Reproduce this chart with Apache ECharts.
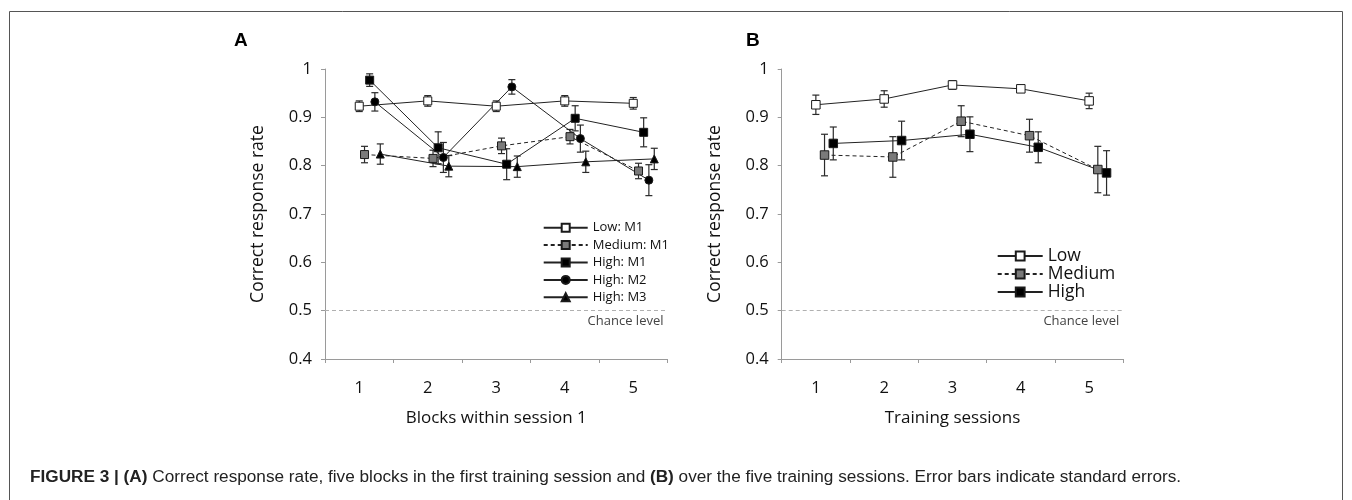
<!DOCTYPE html>
<html>
<head>
<meta charset="utf-8">
<script src="https://cdn.jsdelivr.net/npm/echarts@6/dist/echarts.min.js"></script>
<style>
html,body{margin:0;padding:0;background:#fff;}
#chart{width:1352px;height:500px;}
</style>
</head>
<body>
<div id="chart"></div>
<script>
// ---------- data ----------
const blocks = ['1', '2', '3', '4', '5'];
const sessions = ['1', '2', '3', '4', '5'];

// Panel A: blocks within session 1
const lowM1 = [0.923, 0.934, 0.923, 0.934, 0.929];
const lowM1Err = [0.011, 0.011, 0.011, 0.011, 0.012];
const mediumM1 = [0.823, 0.815, 0.841, 0.860, 0.789];
const mediumM1Err = [0.017, 0.017, 0.016, 0.015, 0.016];
const highM1 = [0.977, 0.837, 0.803, 0.898, 0.869];
const highM1Err = [0.013, 0.033, 0.032, 0.026, 0.030];
const highM2 = [0.932, 0.817, 0.963, 0.856, 0.770];
const highM2Err = [0.019, 0.031, 0.015, 0.028, 0.032];
const highM3 = [0.824, 0.799, 0.798, 0.808, 0.814];
const highM3Err = [0.021, 0.022, 0.022, 0.022, 0.022];

// Panel B: training sessions
const low = [0.926, 0.938, 0.967, 0.959, 0.934];
const lowErr = [0.020, 0.017, 0.009, 0.006, 0.016];
const medium = [0.822, 0.818, 0.892, 0.862, 0.792];
const mediumErr = [0.043, 0.042, 0.032, 0.034, 0.048];
const high = [0.846, 0.852, 0.865, 0.838, 0.785];
const highErr = [0.034, 0.040, 0.036, 0.032, 0.046];

const yTicks = [0.4, 0.5, 0.6, 0.7, 0.8, 0.9, 1];
const chanceLevel = 0.5;

// ---------- style ----------
const FONT = 'Open Sans';
const LINE = '#222';
const AXIS = '#9a9a9a';
const chart = echarts.init(document.getElementById('chart'));

function pts(vals, offset) {
  return vals.map((v, i) => [i + 0.5 + offset, v]);
}
function errPts(vals, errs, offset) {
  return vals.map((v, i) => [i + 0.5 + offset, v - errs[i], v + errs[i]]);
}
function errSeries(name, vals, errs, offset, xi, yi) {
  return {
    type: 'custom', name: name + ' err', xAxisIndex: xi, yAxisIndex: yi, z: 1,
    silent: true,
    data: errPts(vals, errs, offset),
    renderItem: function (params, api) {
      const x = api.value(0);
      const lo = api.coord([x, api.value(1)]);
      const hi = api.coord([x, api.value(2)]);
      const w = 3.5;
      const st = { stroke: '#2a2a2a', lineWidth: 1.2 };
      return {
        type: 'group', children: [
          { type: 'line', shape: { x1: lo[0], y1: lo[1], x2: hi[0], y2: hi[1] }, style: st },
          { type: 'line', shape: { x1: lo[0] - w, y1: lo[1], x2: lo[0] + w, y2: lo[1] }, style: st },
          { type: 'line', shape: { x1: hi[0] - w, y1: hi[1], x2: hi[0] + w, y2: hi[1] }, style: st }
        ]
      };
    }
  };
}
function lineSeries(name, vals, offset, xi, yi, symbol, fill, dashed, size, extra) {
  const s = {
    type: 'line', name: name, xAxisIndex: xi, yAxisIndex: yi, z: 3,
    data: pts(vals, offset),
    symbol: symbol, symbolSize: size, showAllSymbol: true,
    lineStyle: { color: LINE, width: 1, type: dashed ? [4, 3] : 'solid' },
    itemStyle: { color: fill, borderColor: '#1a1a1a', borderWidth: 1, opacity: 1 },
    emphasis: { disabled: true }
  };
  return Object.assign(s, extra || {});
}
function chanceMark() {
  return {
    markLine: {
      silent: true, symbol: 'none', animation: false,
      lineStyle: { type: [4, 3], color: '#b0b0b0', width: 1 },
      label: { formatter: 'Chance level', position: 'insideEndBottom', distance: 4,
               color: '#444', fontFamily: FONT, fontSize: 13 },
      data: [{ yAxis: chanceLevel }]
    }
  };
}

const gridTop = 69, gridH = 290;
function catAxis(gi, cats, name) {
  return {
    type: 'category', gridIndex: gi, data: cats, boundaryGap: true,
    name: name, nameLocation: 'middle', nameGap: 51,
    nameTextStyle: { fontFamily: FONT, fontSize: 17, color: '#111' },
    axisLine: { lineStyle: { color: AXIS, width: 1 } },
    axisTick: { show: true, length: 4, lineStyle: { color: AXIS } },
    axisLabel: { margin: 21, fontFamily: FONT, fontSize: 16.5, color: '#111' },
    splitLine: { show: false }
  };
}
function valXAxis(gi) {
  return { type: 'value', gridIndex: gi, min: 0, max: 5, show: false, splitLine: { show: false } };
}
function yAxis(gi) {
  return {
    type: 'value', gridIndex: gi, min: yTicks[0], max: yTicks[yTicks.length - 1], interval: 0.1,
    name: 'Correct response rate', nameLocation: 'middle', nameGap: 58,
    nameTextStyle: { fontFamily: FONT, fontSize: 17.5, color: '#111' },
    axisLine: { show: true, lineStyle: { color: AXIS, width: 1 } },
    axisTick: { show: true, length: 4, lineStyle: { color: AXIS } },
    axisLabel: { margin: 13, fontFamily: FONT, fontSize: 16.5, color: '#111',
                 formatter: v => (Math.abs(v - 1) < 1e-9 ? '1' : v.toFixed(1)) },
    splitLine: { show: false }
  };
}

const offA = [0, 0.077, 0.152, 0.228, 0.307];
const offB = [0, 0.127, 0.255];

const option = {
  animation: false,
  textStyle: { fontFamily: FONT },
  grid: [
    { left: 325, top: gridTop, width: 342.5, height: gridH },
    { left: 781.7, top: gridTop, width: 341.6, height: gridH }
  ],
  xAxis: [catAxis(0, blocks, 'Blocks within session 1'), valXAxis(0),
          catAxis(1, sessions, 'Training sessions'), valXAxis(1)],
  yAxis: [yAxis(0), yAxis(1)],
  legend: [
    {
      orient: 'vertical', left: 542.7, top: 220.2, padding: 0,
      itemWidth: 44, itemHeight: 10, itemGap: 2.4,
      textStyle: { fontFamily: FONT, fontSize: 13, color: '#111', lineHeight: 15 },
      data: ['Low: M1', 'Medium: M1', 'High: M1', 'High: M2', 'High: M3'],
      selectedMode: false
    },
    {
      orient: 'vertical', left: 996.7, top: 247, padding: 0,
      itemWidth: 45, itemHeight: 11, itemGap: 0,
      textStyle: { fontFamily: FONT, fontSize: 17.5, color: '#111', lineHeight: 18 },
      data: ['Low', 'Medium', 'High'],
      selectedMode: false
    }
  ],
  graphic: [
    { type: 'rect', shape: { x: 9.5, y: 11.5, width: 1333, height: 520 },
      style: { fill: 'none', stroke: '#555', lineWidth: 1 }, silent: true },
    { type: 'text', left: 234, top: 31, style: { text: 'A', font: '900 19px "Liberation Sans", Arial', fill: '#000' } },
    { type: 'text', left: 746, top: 31, style: { text: 'B', font: '900 19px "Liberation Sans", Arial', fill: '#000' } },
    { type: 'text', left: 30, top: 469, style: {
        rich: {
          b: { fontFamily: 'Liberation Sans', fontWeight: 'bold', fontSize: 17.2, fill: '#222' },
          n: { fontFamily: 'Liberation Sans', fontSize: 17.2, fill: '#222' }
        },
        text: '{b|FIGURE 3 | (A)}{n| Correct response rate, five blocks in the first training session and }{b|(B)}{n| over the five training sessions. Error bars indicate standard errors.}'
      } }
  ],
  series: [
    errSeries('Low: M1', lowM1, lowM1Err, offA[0], 1, 0),
    errSeries('Medium: M1', mediumM1, mediumM1Err, offA[1], 1, 0),
    errSeries('High: M1', highM1, highM1Err, offA[2], 1, 0),
    errSeries('High: M2', highM2, highM2Err, offA[3], 1, 0),
    errSeries('High: M3', highM3, highM3Err, offA[4], 1, 0),
    lineSeries('Low: M1', lowM1, offA[0], 1, 0, 'rect', '#fff', false, 8, chanceMark()),
    lineSeries('Medium: M1', mediumM1, offA[1], 1, 0, 'rect', '#7a7a7a', true, 8),
    lineSeries('High: M1', highM1, offA[2], 1, 0, 'rect', '#000', false, 8),
    lineSeries('High: M2', highM2, offA[3], 1, 0, 'circle', '#000', false, 8),
    lineSeries('High: M3', highM3, offA[4], 1, 0, 'triangle', '#000', false, 8),

    errSeries('Low', low, lowErr, offB[0], 3, 1),
    errSeries('Medium', medium, mediumErr, offB[1], 3, 1),
    errSeries('High', high, highErr, offB[2], 3, 1),
    lineSeries('Low', low, offB[0], 3, 1, 'rect', '#fff', false, 8.5, chanceMark()),
    lineSeries('Medium', medium, offB[1], 3, 1, 'rect', '#7a7a7a', true, 8.5),
    lineSeries('High', high, offB[2], 3, 1, 'rect', '#000', false, 8.5)
  ]
};
chart.setOption(option);
</script>
</body>
</html>
